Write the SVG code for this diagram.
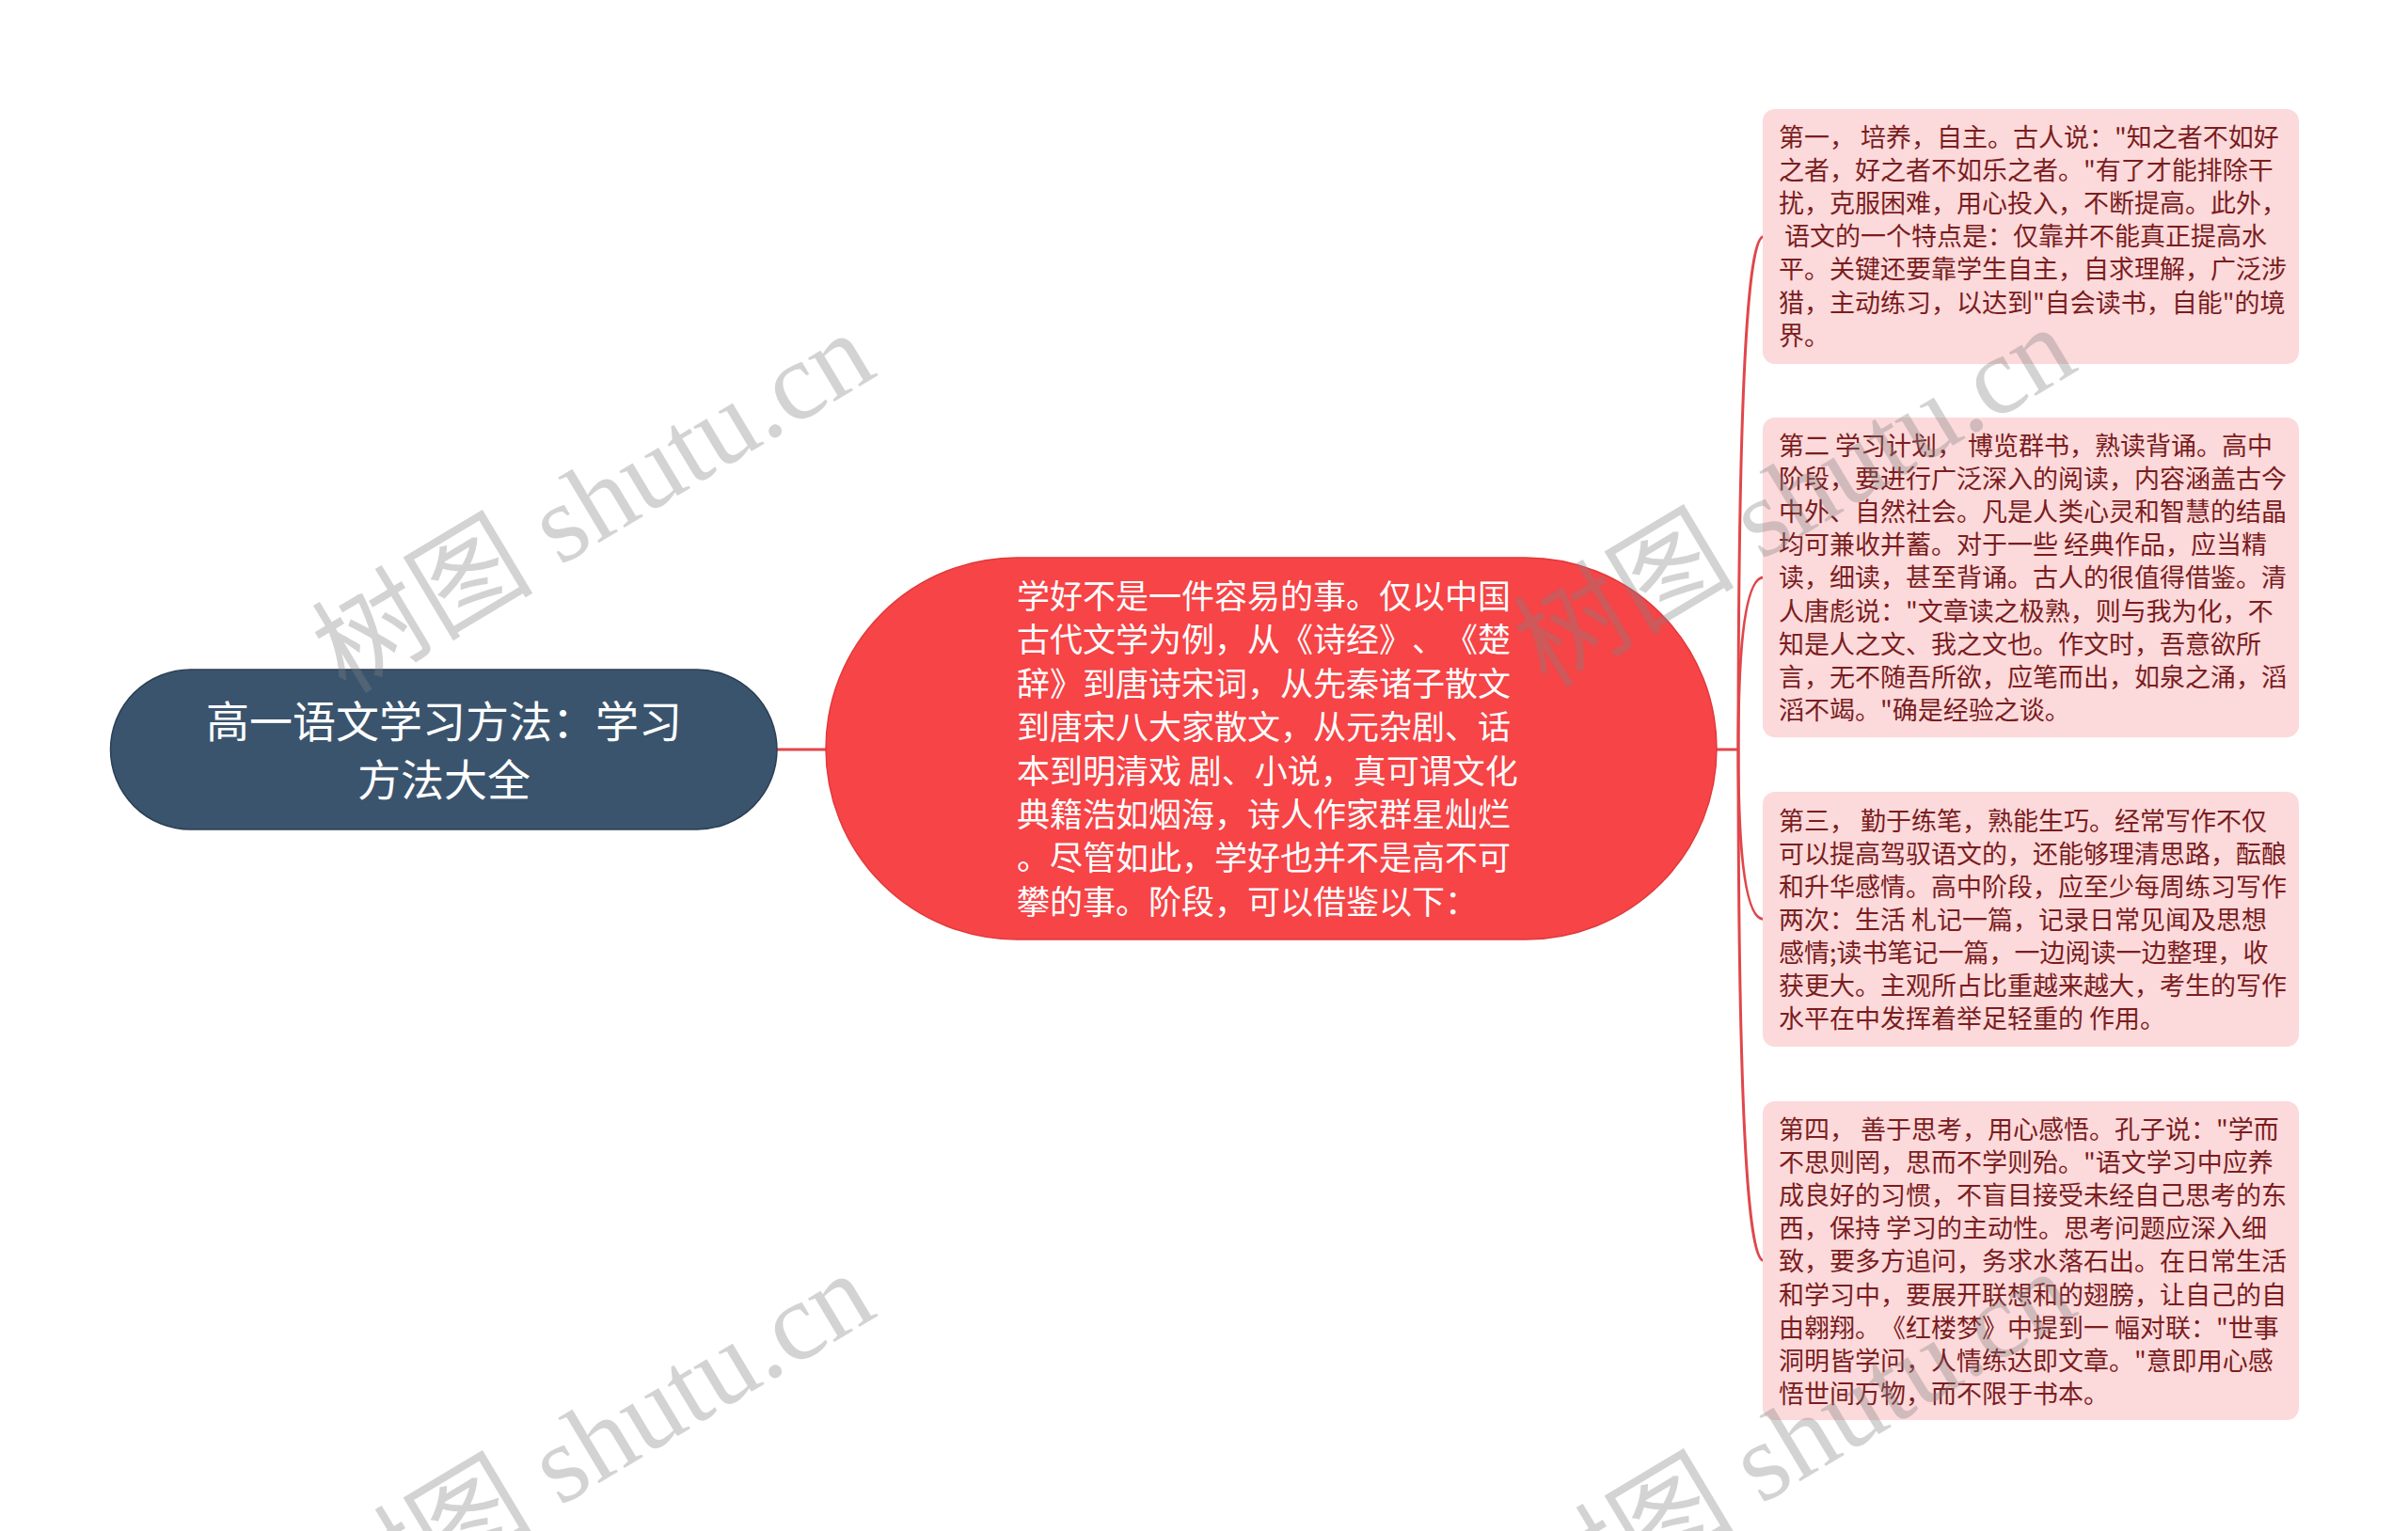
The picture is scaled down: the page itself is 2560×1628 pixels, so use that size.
<svg xmlns="http://www.w3.org/2000/svg" width="2560" height="1628" viewBox="0 0 2560 1628">
<style>
text{text-spacing-trim:space-all}
.edge{fill:none;stroke:#e0474b;stroke-width:3}
.root{fill:#3a546e;stroke:#2c3f53;stroke-width:1.5}
.main{fill:#f64447;stroke:#e03a3d;stroke-width:1.5}
.leaf{fill:#fcd9da}
.rt{font-family:"Noto Sans CJK SC","Noto Sans",sans-serif;font-size:46px;fill:#ffffff;text-anchor:middle}
.mt{font-family:"Noto Sans CJK SC","Noto Sans",sans-serif;font-size:35px;fill:#ffffff;white-space:pre}
.lt{font-family:"Noto Sans CJK SC","Noto Sans",sans-serif;font-size:27px;fill:#7a1d1f;white-space:pre}
.wm{font-family:"Liberation Serif","Noto Sans CJK SC",serif;font-size:118px;fill:#808080;fill-opacity:0.35;text-anchor:end}
</style>
<rect width="2560" height="1628" fill="#ffffff"/>
<g id="connectors">
<path class="edge" d="M826 797 H878"/>
<path class="edge" d="M1824 797 H1848"/>
<path class="edge" d="M1848 797 Q1848 251.5 1875 251.5"/>
<path class="edge" d="M1848 797 Q1848 614 1875 614"/>
<path class="edge" d="M1848 797 Q1848 977.5 1875 977.5"/>
<path class="edge" d="M1848 797 Q1848 1340.5 1875 1340.5"/>
</g>
<g id="root">
<rect class="root" x="117.5" y="712" width="708.5" height="170" rx="85" ry="85"/>
<text class="rt" x="472" y="784">高一语文学习方法：学习</text>
<text class="rt" x="472" y="846">方法大全</text>
</g>
<g id="main">
<rect class="main" x="878" y="593" width="947" height="406" rx="203" ry="203"/>
<text class="mt" x="1081" y="647">学好不是一件容易的事。仅以中国</text>
<text class="mt" x="1081" y="693.4">古代文学为例，从《诗经》、《楚</text>
<text class="mt" x="1081" y="739.8">辞》到唐诗宋词，从先秦诸子散文</text>
<text class="mt" x="1081" y="786.2">到唐宋八大家散文，从元杂剧、话</text>
<text class="mt" x="1081" y="832.6">本到明清戏 剧、小说，真可谓文化</text>
<text class="mt" x="1081" y="879">典籍浩如烟海，诗人作家群星灿烂</text>
<text class="mt" x="1081" y="925.4">。尽管如此，学好也并不是高不可</text>
<text class="mt" x="1081" y="971.8">攀的事。阶段，可以借鉴以下：</text>
</g>
<g id="leaf1">
<rect class="leaf" x="1874" y="116" width="570" height="271" rx="13" ry="13"/>
<text class="lt" x="1891" y="156">第一， 培养，自主。古人说："知之者不如好</text>
<text class="lt" x="1891" y="191.1">之者，好之者不如乐之者。"有了才能排除干</text>
<text class="lt" x="1891" y="226.2">扰，克服困难，用心投入，不断提高。此外，</text>
<text class="lt" x="1891" y="261.3"> 语文的一个特点是：仅靠并不能真正提高水</text>
<text class="lt" x="1891" y="296.4">平。关键还要靠学生自主，自求理解，广泛涉</text>
<text class="lt" x="1891" y="331.5">猎，主动练习，以达到"自会读书，自能"的境</text>
<text class="lt" x="1891" y="366.6">界。</text>
</g>
<g id="leaf2">
<rect class="leaf" x="1874" y="444" width="570" height="340" rx="13" ry="13"/>
<text class="lt" x="1891" y="484">第二 学习计划， 博览群书，熟读背诵。高中</text>
<text class="lt" x="1891" y="519.1">阶段，要进行广泛深入的阅读，内容涵盖古今</text>
<text class="lt" x="1891" y="554.2">中外、自然社会。凡是人类心灵和智慧的结晶</text>
<text class="lt" x="1891" y="589.3">均可兼收并蓄。对于一些 经典作品，应当精</text>
<text class="lt" x="1891" y="624.4">读，细读，甚至背诵。古人的很值得借鉴。清</text>
<text class="lt" x="1891" y="659.5">人唐彪说："文章读之极熟，则与我为化，不</text>
<text class="lt" x="1891" y="694.6">知是人之文、我之文也。作文时，吾意欲所</text>
<text class="lt" x="1891" y="729.7">言，无不随吾所欲，应笔而出，如泉之涌，滔</text>
<text class="lt" x="1891" y="764.8">滔不竭。"确是经验之谈。</text>
</g>
<g id="leaf3">
<rect class="leaf" x="1874" y="842" width="570" height="271" rx="13" ry="13"/>
<text class="lt" x="1891" y="882.5">第三， 勤于练笔，熟能生巧。经常写作不仅</text>
<text class="lt" x="1891" y="917.6">可以提高驾驭语文的，还能够理清思路，酝酿</text>
<text class="lt" x="1891" y="952.7">和升华感情。高中阶段，应至少每周练习写作</text>
<text class="lt" x="1891" y="987.8">两次：生活 札记一篇，记录日常见闻及思想</text>
<text class="lt" x="1891" y="1022.9">感情;读书笔记一篇，一边阅读一边整理，收</text>
<text class="lt" x="1891" y="1058">获更大。主观所占比重越来越大，考生的写作</text>
<text class="lt" x="1891" y="1093.1">水平在中发挥着举足轻重的 作用。</text>
</g>
<g id="leaf4">
<rect class="leaf" x="1874" y="1171" width="570" height="339" rx="13" ry="13"/>
<text class="lt" x="1891" y="1211">第四， 善于思考，用心感悟。孔子说："学而</text>
<text class="lt" x="1891" y="1246.1">不思则罔，思而不学则殆。"语文学习中应养</text>
<text class="lt" x="1891" y="1281.2">成良好的习惯，不盲目接受未经自己思考的东</text>
<text class="lt" x="1891" y="1316.3">西，保持 学习的主动性。思考问题应深入细</text>
<text class="lt" x="1891" y="1351.4">致，要多方追问，务求水落石出。在日常生活</text>
<text class="lt" x="1891" y="1386.5">和学习中，要展开联想和的翅膀，让自己的自</text>
<text class="lt" x="1891" y="1421.6">由翱翔。《红楼梦》中提到一 幅对联："世事</text>
<text class="lt" x="1891" y="1456.7">洞明皆学问，人情练达即文章。"意即用心感</text>
<text class="lt" x="1891" y="1491.8">悟世间万物，而不限于书本。</text>
</g>
<g id="watermarks">
<text class="wm" transform="translate(935 398) rotate(-31)">树图 shutu.cn</text>
<text class="wm" transform="translate(2212 392) rotate(-31)">树图 shutu.cn</text>
<text class="wm" transform="translate(935 1398) rotate(-31)">树图 shutu.cn</text>
<text class="wm" transform="translate(2212 1396) rotate(-31)">树图 shutu.cn</text>
</g>
</svg>
